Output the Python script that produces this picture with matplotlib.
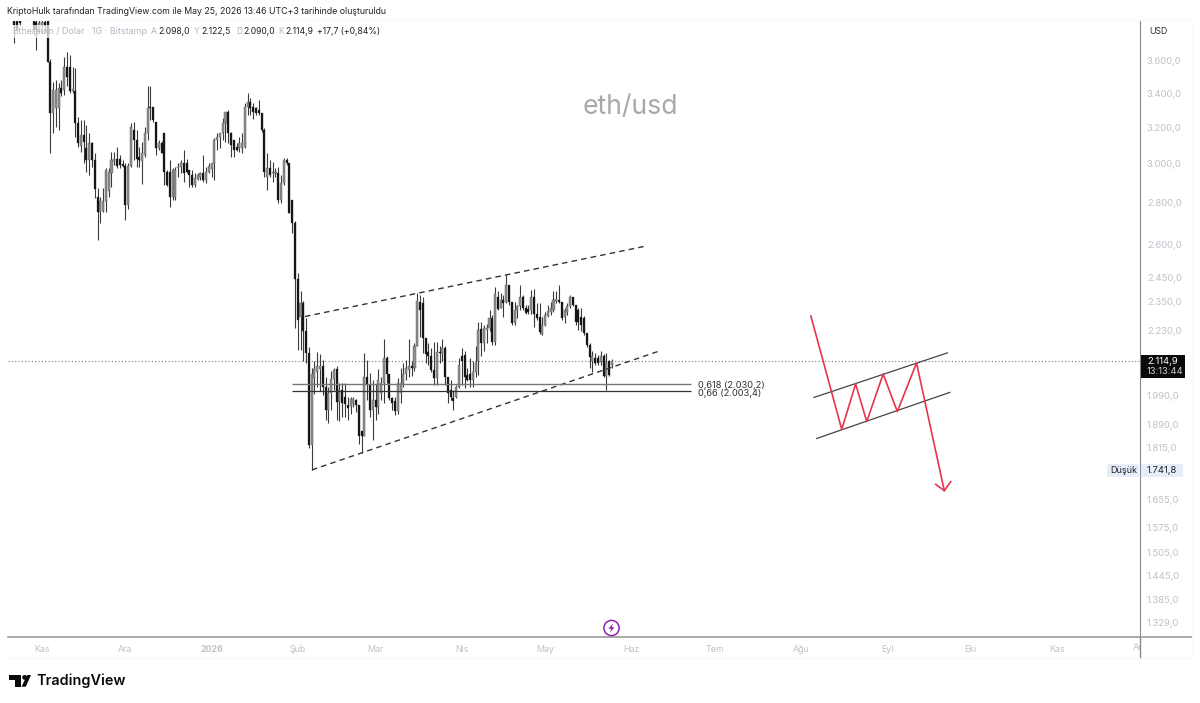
import matplotlib
matplotlib.use("Agg")
import matplotlib.pyplot as plt
from matplotlib.patches import Rectangle, Circle, Polygon
from matplotlib.ticker import NullLocator
from matplotlib.transforms import Bbox, IdentityTransform
import numpy as np

plt.rcParams['font.family'] = ['Inter', 'DejaVu Sans']

# daily candles, first one is 10 days before Nov 1 2025
opens = [3866,3866,3880,3950,3980,3960,3990,3920,3860,3790,3830,3860,3870,3590,3280,3310,3310,3430,3420,3564,
         3560,3410,3410,3223,3095,3155,3084,3020,3110,3020,2830,2755,2758,2806,2860,2950,3015,3025,3025,3000,
         2990,2790,2990,3185,3129,3038,3015,3045,3170,3320,3320,3232,3083,3110,3166,2958,2958,2830,2830,2975,
         2985,3002,3002,2967,2940,2890,2920,2930,2950,2915,2958,2970,3002,3129,3148,3166,3223,3290,3166,3129,
         3092,3084,3084,3092,3320,3350,3320,3310,3300,3280,3185,2932,2976,2950,2950,2950,2814,2898,3020,3002,
         2814,2700,2445,2285,2342,2228,2145,1823,2050,2075,2085,2097,2020,1939,1998,2047,2085,1965,2009,1983,
         1956,1952,1962,1972,1955,1866,1850,2056,2025,1939,1974,1950,1997,2033,2125,2065,1980,1968,1935,1997,
         2033,2065,2080,2097,2087,2172,2349,2342,2202,2150,2132,2081,2050,2150,2146,2163,2056,2009,1979,1985,
         2020,2132,2138,2062,2068,2045,2075,2113,2237,2182,2235,2240,2282,2188,2367,2322,2356,2349,2420,2349,
         2261,2315,2329,2370,2322,2318,2315,2370,2298,2285,2220,2254,2290,2308,2315,2353,2356,2349,2288,2308,
         2329,2367,2335,2315,2288,2281,2221,2175,2113,2125,2125,2109,2132,2060,2113,2098]
highs = [3930,3900,3930,3990,4020,4040,4040,3960,3900,3880,3900,3900,3900,3610,3470,3481,3460,3481,3628,3655,
         3640,3564,3555,3261,3242,3240,3212,3166,3120,3056,2872,2830,2872,2975,2975,3065,3065,3092,3047,3020,
         3002,3002,3225,3232,3185,3092,3120,3204,3445,3445,3320,3232,3129,3125,3166,2965,3020,2975,2985,3002,
         3020,3074,3025,2967,2967,2950,2950,2958,3047,2985,3002,3002,3139,3166,3166,3251,3290,3300,3175,3129,
         3111,3148,3166,3340,3400,3370,3340,3320,3360,3280,3195,3056,3020,3011,2975,2985,2940,3029,3029,3002,
         2814,2710,2470,2392,2350,2280,2167,2087,2116,2147,2142,2120,2055,2020,2077,2090,2097,2035,2035,2035,
         1985,1985,1985,1978,1957,1866,2144,2119,2070,2045,2030,2085,2056,2197,2133,2065,1985,1985,2050,2087,
         2106,2119,2199,2113,2182,2385,2379,2368,2202,2182,2163,2188,2188,2172,2199,2172,2056,2045,2009,2026,
         2127,2163,2152,2087,2125,2113,2172,2267,2267,2252,2259,2315,2295,2413,2392,2385,2378,2463,2420,2349,
         2349,2335,2420,2378,2335,2335,2399,2402,2342,2342,2288,2308,2335,2349,2392,2392,2420,2349,2322,2342,
         2378,2370,2335,2322,2322,2291,2221,2182,2151,2144,2138,2151,2142,2144,2117,2122.5]
lows = [3715,3790,3830,3880,3900,3920,3900,3770,3671,3781,3780,3790,3590,3056,3166,3204,3185,3380,3390,3445,
        3400,3400,3148,3092,3065,3002,2958,2941,2985,2822,2621,2700,2755,2755,2830,2880,2995,2975,2975,2985,
        2716,2770,2985,3020,2985,2985,2895,3038,3129,3242,3232,3047,3074,3055,2890,2885,2780,2815,2814,2932,
        2950,2905,2950,2881,2881,2880,2915,2915,2905,2898,2950,2932,2915,3074,3085,3129,3120,3111,3038,3038,
        3070,3065,3056,3083,3270,3270,3245,3270,3270,3175,2932,2864,2932,2905,2930,2800,2800,2890,2995,2748,
        2652,2240,2157,2157,2113,2106,1811,1743,1995,2020,2005,1990,1905,1895,1939,2009,1905,1900,1915,1915,
        1905,1925,1950,1930,1825,1795,1850,1974,1915,1838,1905,1925,1974,1962,2033,1974,1939,1920,1925,1962,
        2020,2045,2056,2060,2077,2172,2208,2145,2106,2100,2075,2026,2026,2106,2113,2025,1962,1974,1939,1980,
        2014,2026,2014,2042,2020,2020,2056,2063,2132,2151,2182,2230,2175,2175,2315,2322,2285,2342,2335,2254,
        2254,2282,2315,2315,2297,2297,2297,2245,2274,2217,2215,2250,2288,2295,2308,2342,2342,2274,2261,2295,
        2322,2332,2254,2234,2228,2215,2169,2087,2075,2100,2100,2100,2057,2007,2060,2090]
closes = [3838,3803,3850,3900,3930,3990,3940,3810,3800,3850,3860,3830,3595,3280,3420,3420,3430,3400,3564,3500,
          3410,3425,3223,3111,3155,3120,3020,3110,3020,2870,2755,2806,2806,2965,2955,3020,3025,2990,2995,2990,
          2790,2990,3204,3129,3025,3020,3055,3170,3310,3310,3240,3083,3110,3060,2958,2890,2830,2965,2968,2985,
          3005,2950,2958,2940,2890,2925,2940,2950,2915,2958,2990,3002,3129,3148,3166,3223,3290,3166,3100,3074,
          3074,3111,3111,3320,3350,3310,3290,3280,3280,3185,2958,2976,2940,2955,2955,2814,2898,3020,3002,2748,
          2700,2445,2274,2342,2228,2145,1823,2065,2085,2097,2097,2020,1939,1998,2047,2080,1965,2009,1963,1958,
          1945,1975,1975,1955,1850,1850,2056,2025,1939,1974,1950,2045,2033,2125,2065,1980,1962,1935,2033,2033,
          2065,2090,2097,2087,2172,2350,2315,2202,2140,2135,2081,2050,2150,2146,2163,2056,1997,1985,1968,2020,
          2100,2113,2056,2044,2045,2075,2106,2234,2182,2240,2240,2282,2188,2381,2320,2356,2345,2420,2349,2261,
          2315,2329,2370,2322,2304,2308,2370,2298,2280,2227,2254,2295,2312,2322,2356,2359,2349,2282,2315,2332,
          2367,2335,2267,2267,2254,2221,2175,2129,2132,2108,2106,2132,2060,2106,2063,2114.9]
first_day = -10

price_ticks = [3600,3400,3200,3000,2800,2600,2450,2350,2230,1990,1890,1815,1655,1575,1505,1445,1385,1329]
month_days = [0,30,61,92,120,151,181,212,242,273,304,334,365]
month_names = ['Kas','Ara','2026','Şub','Mar','Nis','May','Haz','Tem','Ağu','Eyl','Eki','Kas']

last_price = 2114.9
fib_prices = [2030.2, 2003.4]
fib_names = ['0,618 (2.030,2)', '0,66 (2.003,4)']

upper_days, upper_prices = [94.6, 217.5], [2288, 2593]
lower_days, lower_prices = [97.1, 222.3], [1743, 2153]
red_days = [276.6, 287.7, 292.7, 296.7, 302.6, 307.7, 314.6, 324.6]
red_prices = [2290, 1873, 2030, 1899, 2066, 1933, 2107, 1680]
head_days = [321.5, 324.6, 326.9]
head_prices = [1699, 1680, 1707]
flag_top_days, flag_top_prices = [277.7, 325.7], [1982, 2145]
flag_bot_days, flag_bot_prices = [278.7, 326.6], [1843, 2000]


def fx(x):
    return x / 1200


def fy(y):
    return 1 - y / 703


def px_patch(patch):
    # patch given in display pixels
    patch.set_transform(IdentityTransform())
    fig.add_artist(patch)
    patch.set_transform(IdentityTransform())


fig = plt.figure(figsize=(12, 7.03), dpi=100, facecolor='white')
ax = fig.add_axes([fx(8), fy(637), fx(1132), 617 / 703])
ax.set_yscale('log')

days = first_day + np.arange(len(opens))
o = np.array(opens, dtype=float)
c = np.array(closes, dtype=float)
up = c >= o
ax.vlines(days, lows, highs, color='#3a3a3a', lw=0.8, zorder=2)
ax.bar(days[up], np.abs(c - o)[up], bottom=np.minimum(o, c)[up], width=0.75,
       color='#8f8f8f', edgecolor='#5a5a5a', lw=0.3, zorder=3)
ax.bar(days[~up], np.abs(c - o)[~up], bottom=np.minimum(o, c)[~up], width=0.72,
       color='#161616', edgecolor='#161616', lw=0.2, zorder=3)

ax.set_xlim(-12.23, 395)
ax.set_ylim(1296, 3871)

# drawings
ax.axhline(last_price, color='#777777', lw=0.8, ls=(0, (1, 2)), zorder=1)
ax.plot(upper_days, upper_prices, color='#333333', lw=1, ls=(0, (4, 3)), zorder=4)
ax.plot(lower_days, lower_prices, color='#333333', lw=1, ls=(0, (4, 3)), zorder=4)
ax.hlines(fib_prices[0], 89.9, 233.5, color='#777777', lw=1.0, zorder=4)
ax.hlines(fib_prices[1], 89.9, 233.5, color='#333333', lw=0.9, zorder=4)
for price, name in zip(fib_prices, fib_names):
    ax.annotate(name, (236, price), xytext=(0, -1.2), textcoords='offset points',
                fontsize=6.7, color='#333333', va='center', zorder=5)
ax.plot(flag_top_days, flag_top_prices, color='#444444', lw=0.9, zorder=4)
ax.plot(flag_bot_days, flag_bot_prices, color='#444444', lw=0.9, zorder=4)
ax.plot(red_days, red_prices, color='#e8344e', lw=1.2, zorder=5)
ax.plot(head_days, head_prices, color='#e8344e', lw=1.2, zorder=5)

# axes furniture
for side in ['top', 'left']:
    ax.spines[side].set_visible(False)
ax.spines['right'].set_color('#8a8a8a')
ax.spines['bottom'].set_color('#9a9a9a')
ax.spines['bottom'].set_linewidth(1.2)
ax.yaxis.tick_right()
ax.yaxis.set_minor_locator(NullLocator())
ax.set_yticks(price_ticks)
ax.set_yticklabels([f'{p:,.1f}'.replace(',', 'X').replace('.', ',').replace('X', '.') for p in price_ticks])
ax.tick_params(axis='y', length=0, pad=5, labelsize=6.8, labelcolor='#bfc1c8')
ax.set_xticks(month_days)
ax.set_xticklabels(month_names)
ax.tick_params(axis='x', length=0, pad=6, labelsize=6.4, labelcolor='#bfc1c8')
ax.get_xticklabels()[2].set_fontweight('bold')
cut = ax.text(395, -0.0175, 'Ara', fontsize=6.4, color='#bfc1c8', ha='center', va='center',
              transform=ax.get_xaxis_transform())
cut.set_clip_box(Bbox([[0, 0], [1140, 703]]))
cut.set_clip_on(True)

fig.add_artist(plt.Line2D([fx(1140), fx(1140)], [fy(637), fy(658)], color='#8a8a8a', lw=1))
fig.add_artist(plt.Line2D([fx(1140), fx(1192)], [fy(637), fy(637)], color='#9a9a9a', lw=1.2))
# faint panel edge around the chart
fig.add_artist(plt.Line2D([fx(8), fx(1192), fx(1192), fx(8)], [fy(20), fy(20), fy(658), fy(658)],
                          color='#f8f8f9', lw=0.8))

# header and legend
fig.text(fx(7), fy(12), 'KriptoHulk tarafından TradingView.com ile May 25, 2026 13:46 UTC+3 tarihinde oluşturuldu',
         fontsize=6.32, color='#222222', va='center')
fig.add_artist(Rectangle((fx(8), fy(38)), fx(140), 13 / 703, color='white', alpha=0.72, lw=0, zorder=5))
fig.text(fx(13), fy(31), 'Ethereum / Dolar · 1G · Bitstamp', fontsize=6.45, color='#b4b6c0', va='center', zorder=6)
legend_x = [151, 194, 236, 278]
for x, letter, val in zip(legend_x, 'AYDK', ['2.098,0', '2.122,5', '2.090,0', '2.114,9']):
    fig.text(fx(x), fy(31), letter, fontsize=6.2, color='#b4b6c0', va='center', zorder=6)
    fig.text(fx(x + 7), fy(31), val, fontsize=6.2, color='#222222', va='center', zorder=6)
fig.text(fx(317), fy(31), '+17,7 (+0,84%)', fontsize=6.2, color='#222222', va='center', zorder=6)
fig.text(fx(1149), fy(32), 'USD', fontsize=6.3, color='#333333', va='center')
fig.text(fx(630.5), fy(107), 'eth/usd', fontsize=19.2, color='#a9a9a9', ha='center', va='center')

# price tags
fig.add_artist(Rectangle((fx(1141), fy(378)), fx(44), 23 / 703, color='#0a0a0a', lw=0, zorder=5))
fig.text(fx(1147), fy(361), '2.114,9', fontsize=6.8, color='white', va='center', zorder=6)
fig.text(fx(1147), fy(371.5), '13:13:44', fontsize=6.8, color='#cccccc', va='center', zorder=6)
fig.add_artist(Rectangle((fx(1107), fy(477)), fx(32), 13 / 703, color='#e6eefa', lw=0, zorder=5))
fig.add_artist(Rectangle((fx(1141), fy(477)), fx(42), 13 / 703, color='#e6eefa', lw=0, zorder=5))
fig.text(fx(1110), fy(470.5), 'Düşük', fontsize=6.5, color='#222222', va='center', zorder=6)
fig.text(fx(1147), fy(470.5), '1.741,8', fontsize=6.8, color='#222222', va='center', zorder=6)

# lightning marker
px_patch(Circle((611.5, 703 - 628), 7.6, fill=False, edgecolor='#8e24aa', lw=1.1))
px_patch(Polygon([(613, 703 - 623.5), (608.5, 703 - 628.8), (611.2, 703 - 628.8),
                  (610, 703 - 632.5), (614.5, 703 - 627.2), (611.8, 703 - 627.2)],
                 closed=True, color='#8e24aa', lw=0))

# TradingView logo
logo = [[(9.3, 675), (20.7, 675), (20.7, 686.7), (15, 686.7), (15, 680), (9.3, 680)],
        [(27.2, 675), (31, 675), (25.8, 686.7), (21.5, 686.7)]]
for pts in logo:
    px_patch(Polygon([(a, 703 - b) for a, b in pts], closed=True, color='#0a0a0a', lw=0))
px_patch(Circle((24.6, 703 - 677.4), 2.4, color='#0a0a0a', lw=0))
fig.text(fx(36), fy(680.5), 'TradingView', fontsize=10.4, fontweight='semibold', color='#0a0a0a', va='center')

fig.savefig('out.png', dpi=100)
